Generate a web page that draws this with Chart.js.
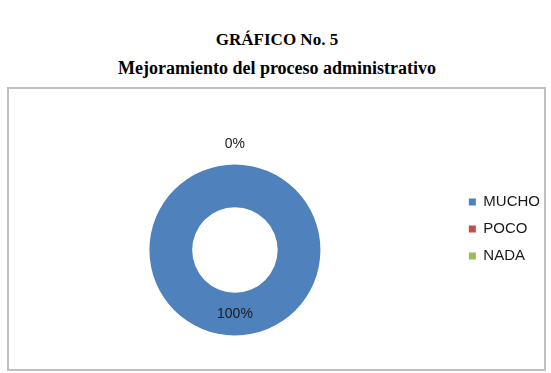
<!DOCTYPE html>
<html>
<head>
<meta charset="utf-8">
<script src="https://cdn.jsdelivr.net/npm/chart.js@4"></script>
<style>
  body { margin: 0; background: #fff; width: 551px; height: 373px; overflow: hidden; position: relative; }
  .titulo { position: absolute; left: 0; width: 554px; text-align: center; font-family: "Liberation Serif", "Times New Roman", serif; font-weight: bold; color: #000; white-space: nowrap; }
  #t1 { top: 30px; font-size: 17px; line-height: 20px; }
  #t2 { top: 58px; font-size: 18px; line-height: 20px; }
  #marco { position: absolute; left: 7px; top: 87px; width: 535px; height: 280px; border: 2px solid #bfbfbf; }
  #grafico { position: absolute; left: 3px; top: 89px; display: block; }
</style>
</head>
<body>
<div class="titulo" id="t1">GRÁFICO No. 5</div>
<div class="titulo" id="t2">Mejoramiento del proceso administrativo</div>
<div id="marco"></div>
<canvas id="grafico" width="548" height="280"></canvas>
<script>
// respuestas de la encuesta
const categorias = ['MUCHO', 'POCO', 'NADA'];
const valores = [100, 0, 0];
const colores = ['#4f81bd', '#c0504d', '#9bbb59'];

// porcentajes sobre cada porcion (Excel style)
const etiquetasPct = {
    id: 'etiquetasPct',
    afterDatasetsDraw(chart) {
        const ctx = chart.ctx;
        const meta = chart.getDatasetMeta(0);
        const total = valores.reduce((a, b) => a + b, 0);
        const hechos = [];
        ctx.save();
        ctx.font = '14px "Liberation Sans", Arial, sans-serif';
        ctx.fillStyle = '#1a1a1a';
        ctx.textAlign = 'center';
        ctx.textBaseline = 'middle';
        meta.data.forEach((arc, i) => {
            const p = arc.getProps(['x', 'y', 'startAngle', 'endAngle', 'innerRadius', 'outerRadius'], true);
            const ang = (p.startAngle + p.endAngle) / 2;
            let r = (p.innerRadius + p.outerRadius) / 2;
            if (valores[i] === 0) r = p.outerRadius + 20; // porcion vacia, etiqueta afuera
            const x = p.x + Math.cos(ang) * r;
            const y = p.y + Math.sin(ang) * r;
            const txt = Math.round(valores[i] / total * 100) + '%';
            const clave = Math.round(x) + ',' + Math.round(y);
            if (hechos.includes(clave)) return;
            hechos.push(clave);
            ctx.fillText(txt, x, y);
        });
        ctx.restore();
    }
};

const ctx = document.getElementById('grafico').getContext('2d');
new Chart(ctx, {
    type: 'doughnut',
    data: {
        labels: categorias,
        datasets: [{
            data: valores,
            backgroundColor: colores,
            borderWidth: 0,
        }],
    },
    options: {
        responsive: false,
        animation: false,
        cutout: '50%',
        layout: {
            padding: { top: 75.5, bottom: 33.5, left: 10, right: 1 },
        },
        plugins: {
            tooltip: { enabled: false },
            legend: {
                position: 'right',
                align: 'start',
                maxWidth: 100,
                title: { display: true, text: '', padding: 0, font: { size: 16, lineHeight: 18 / 16 } },
                labels: {
                    boxWidth: 7,
                    boxHeight: 7,
                    padding: 12,
                    color: '#1a1a1a',
                    font: { family: '"Liberation Sans", Arial, sans-serif', size: 15 },
                },
            },
        },
    },
    plugins: [etiquetasPct],
});
</script>
</body>
</html>
